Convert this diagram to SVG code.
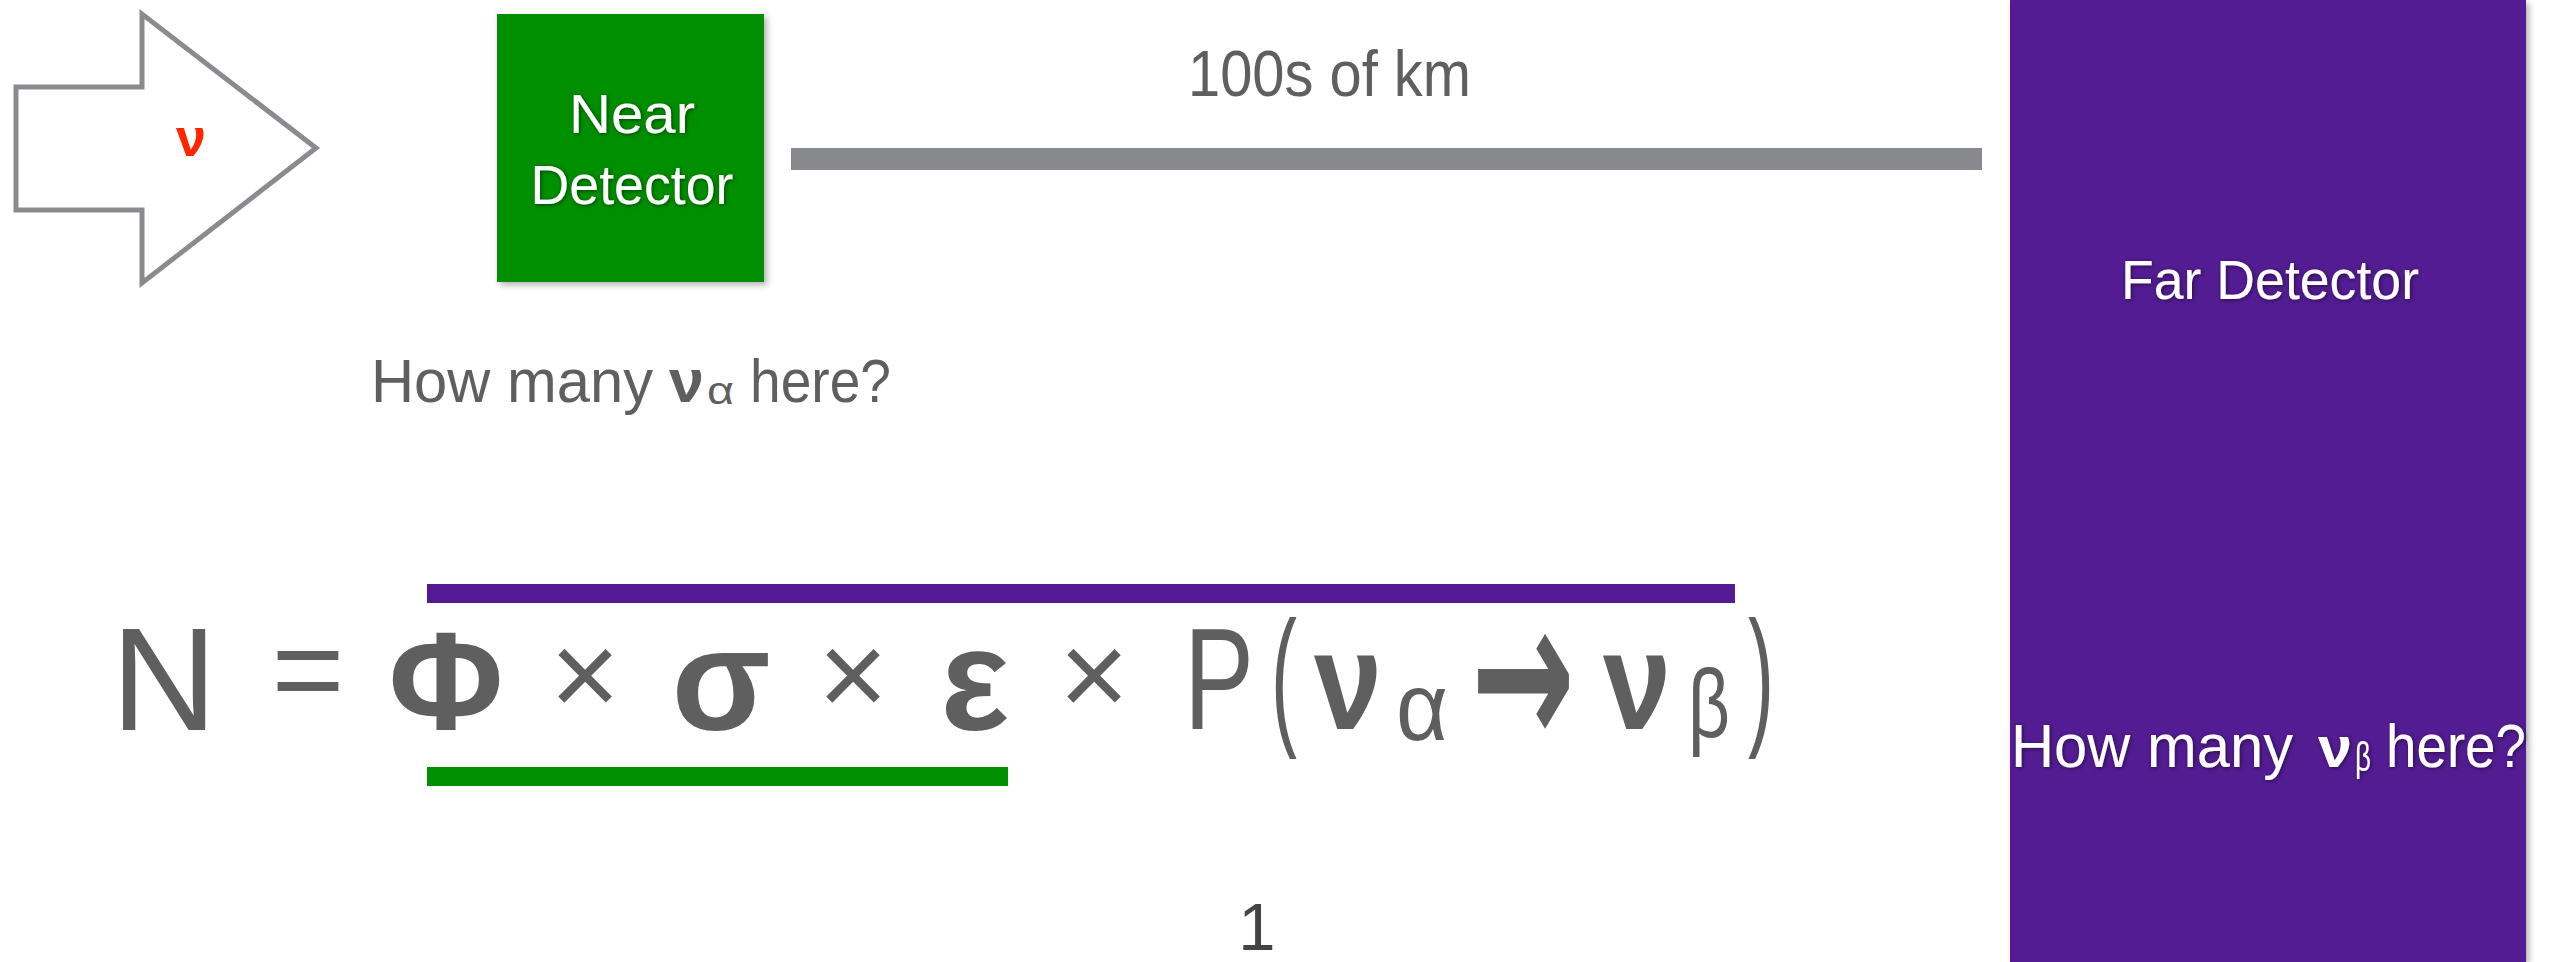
<svg xmlns="http://www.w3.org/2000/svg" width="2558" height="962" viewBox="0 0 2558 962">
<defs>
<filter id="boxShadow" x="-10%" y="-10%" width="130%" height="130%">
<feDropShadow dx="3" dy="3" stdDeviation="3" flood-color="#000" flood-opacity="0.3"/>
</filter>
<filter id="txtShadow" x="-10%" y="-30%" width="120%" height="160%">
<feDropShadow dx="1" dy="1" stdDeviation="2" flood-color="#000" flood-opacity="0.55"/>
</filter>
</defs>
<style>
.t{font-family:"Liberation Sans","DejaVu Sans",sans-serif;}
.g{fill:#5f5f5f;}
.w{fill:#ffffff;}
.eq{font-family:"Liberation Sans","DejaVu Sans",sans-serif;fill:#5f5f5f;text-anchor:middle;}
.b{font-weight:bold;}
.arr{font-family:"DejaVu Sans",sans-serif;fill:#5f5f5f;text-anchor:middle;}
</style>
<rect width="2558" height="962" fill="#ffffff"/>

<g id="beam">
<polygon points="16,87 142,87 142,14 316,148 142,283 142,210 16,210" fill="#ffffff" stroke="#8a8b8f" stroke-width="5"/>
<text class="t b" x="191" y="156" font-size="54" fill="#ff2600" text-anchor="middle">ν</text>
</g>

<g id="near-detector">
<rect x="497" y="14" width="267" height="268" fill="#008f00" filter="url(#boxShadow)"/>
<g filter="url(#txtShadow)">
<text class="t w" x="632" y="133" font-size="56" text-anchor="middle" textLength="126" lengthAdjust="spacingAndGlyphs">Near</text>
<text class="t w" x="632" y="204" font-size="56" text-anchor="middle" textLength="203" lengthAdjust="spacingAndGlyphs">Detector</text>
</g>
</g>

<g id="far-detector">
<rect x="2010" y="0" width="516" height="962" fill="#531b93" filter="url(#boxShadow)"/>
<g filter="url(#txtShadow)">
<text class="t w" x="2270" y="299" font-size="56" text-anchor="middle" textLength="298" lengthAdjust="spacingAndGlyphs">Far Detector</text>
<text class="t w" x="2011" y="767" font-size="61" textLength="282" lengthAdjust="spacingAndGlyphs">How many</text>
<text class="t w b" x="2318" y="767" font-size="58" textLength="34" lengthAdjust="spacingAndGlyphs">ν</text>
<text class="t w" x="2355" y="771" font-size="40" textLength="16" lengthAdjust="spacingAndGlyphs">β</text>
<text class="t w" x="2386" y="767" font-size="61" textLength="140" lengthAdjust="spacingAndGlyphs">here?</text>
</g>
</g>

<g id="connectors">
<rect x="791" y="148" width="1191" height="22" fill="#87898d"/>
</g>

<g id="distance-label">
<text class="t g" x="1188" y="96" font-size="64" textLength="283" lengthAdjust="spacingAndGlyphs">100s of km</text>
</g>

<g id="near-question">
<text class="t g" x="371" y="402" font-size="61" textLength="282" lengthAdjust="spacingAndGlyphs">How many</text>
<text class="t g b" x="669" y="402" font-size="62" textLength="35" lengthAdjust="spacingAndGlyphs">ν</text>
<text class="t g" x="707" y="404" font-size="38" textLength="27" lengthAdjust="spacingAndGlyphs">α</text>
<text class="t g" x="750" y="402" font-size="61" textLength="141" lengthAdjust="spacingAndGlyphs">here?</text>
</g>

<g id="equation">
<rect x="427" y="584" width="1308" height="19" fill="#531b93"/>
<rect x="427" y="767" width="581" height="19" fill="#008f00"/>
<text class="eq" x="164" y="730" font-size="147">N</text>
<text class="eq" x="308" y="712" font-size="125">=</text>
<text class="eq b" x="446" y="729" font-size="140">Φ</text>
<text class="eq" x="585" y="716" font-size="120">×</text>
<text class="eq b" x="721" y="730" font-size="145">σ</text>
<text class="eq" x="853" y="716" font-size="120">×</text>
<text class="eq b" x="975" y="730" font-size="145">ε</text>
<text class="eq" x="1094" y="716" font-size="120">×</text>
<text class="eq" x="1219" y="729" font-size="145" textLength="70" lengthAdjust="spacingAndGlyphs">P</text>
<text class="eq" x="1284" y="727" font-size="152" textLength="26" lengthAdjust="spacingAndGlyphs">(</text>
<text class="eq b" x="1348" y="729" font-size="140" textLength="68" lengthAdjust="spacingAndGlyphs">ν</text>
<text class="eq" x="1422" y="740" font-size="96" textLength="52" lengthAdjust="spacingAndGlyphs">α</text>
<text class="arr" x="1523" y="747" font-size="210" font-weight="bold" textLength="104" lengthAdjust="spacingAndGlyphs">→</text>
<text class="eq b" x="1637" y="729" font-size="140" textLength="68" lengthAdjust="spacingAndGlyphs">ν</text>
<text class="eq" x="1709" y="737" font-size="96" textLength="42" lengthAdjust="spacingAndGlyphs">β</text>
<text class="eq" x="1761" y="727" font-size="152" textLength="26" lengthAdjust="spacingAndGlyphs">)</text>
</g>

<g id="page-number">
<text class="t" x="1257" y="950" font-size="67" fill="#444444" text-anchor="middle">1</text>
</g>
</svg>
